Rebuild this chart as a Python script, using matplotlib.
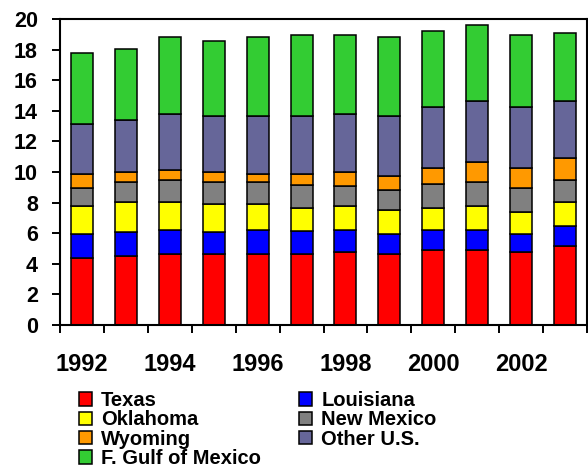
import matplotlib
matplotlib.use("Agg")
import matplotlib.pyplot as plt
from matplotlib.patches import Patch
import numpy as np

years = [1992, 1993, 1994, 1995, 1996, 1997, 1998, 1999, 2000, 2001, 2002, 2003]
texas = [4.40, 4.51, 4.64, 4.64, 4.64, 4.64, 4.77, 4.64, 4.90, 4.90, 4.77, 5.16]
louisiana = [1.55, 1.57, 1.59, 1.44, 1.59, 1.50, 1.46, 1.33, 1.33, 1.33, 1.20, 1.31]
oklahoma = [1.81, 1.96, 1.81, 1.83, 1.68, 1.51, 1.55, 1.55, 1.42, 1.55, 1.42, 1.57]
new_mexico = [1.22, 1.33, 1.46, 1.46, 1.46, 1.50, 1.33, 1.33, 1.59, 1.59, 1.59, 1.46]
wyoming = [0.91, 0.63, 0.63, 0.63, 0.50, 0.72, 0.89, 0.91, 1.04, 1.31, 1.30, 1.44]
other_us = [3.27, 3.42, 3.68, 3.68, 3.81, 3.81, 3.81, 3.92, 3.95, 3.94, 3.95, 3.68]
gulf = [4.64, 4.62, 5.01, 4.88, 5.14, 5.27, 5.14, 5.14, 4.99, 4.99, 4.72, 4.46]

series = [
    ("Texas", texas, "#FF0000"),
    ("Louisiana", louisiana, "#0000FF"),
    ("Oklahoma", oklahoma, "#FFFF00"),
    ("New Mexico", new_mexico, "#808080"),
    ("Wyoming", wyoming, "#FF9900"),
    ("Other U.S.", other_us, "#666699"),
    ("F. Gulf of Mexico", gulf, "#33CC33"),
]

plt.rcParams['font.family'] = ['Liberation Sans', 'DejaVu Sans']
plt.rcParams['font.weight'] = 'bold'

fig = plt.figure(figsize=(5.88, 4.74), dpi=100)
ax = fig.add_axes([60/588, 1-325/474, 527/588, 306/474])

x = np.arange(len(years))
bottom = np.zeros(len(years))
handles = {}
for name, vals, col in series:
    ax.bar(x, vals, width=0.5, bottom=bottom, color=col, edgecolor='black', linewidth=1.1)
    bottom += np.array(vals)
    handles[name] = Patch(facecolor=col, edgecolor='black', linewidth=1.1)

ax.set_xlim(-0.5, len(years) - 0.5)
ax.set_ylim(0, 20)
ax.set_yticks(np.arange(0, 21, 2))
ax.tick_params(axis='y', length=6, width=1.4, labelsize=15.5, pad=10)

ax.set_xticks(x[::2])
ax.set_xticklabels([str(y) for y in years[::2]], fontsize=17, fontweight='bold')
ax.set_xticks(np.arange(-0.5, len(years), 1.0), minor=True)
ax.tick_params(axis='x', which='major', length=0, pad=20)
ax.tick_params(axis='x', which='minor', length=6, width=1.4)
for lab in ax.get_yticklabels():
    lab.set_fontweight('bold')
for sp in ax.spines.values():
    sp.set_linewidth(1.5)

order = ["Texas", "Oklahoma", "Wyoming", "F. Gulf of Mexico", "Louisiana", "New Mexico", "Other U.S."]
leg = fig.legend([handles[n] for n in order], order, ncol=2, frameon=False,
                 loc='upper left', bbox_to_anchor=(79/588, 1-391/474),
                 prop={'size': 14.5, 'weight': 'bold'},
                 handlelength=0.65, handleheight=0.65, handletextpad=0.45,
                 labelspacing=0.02, columnspacing=1.9, borderaxespad=0, borderpad=0)

fig.savefig("out.png", dpi=100)
